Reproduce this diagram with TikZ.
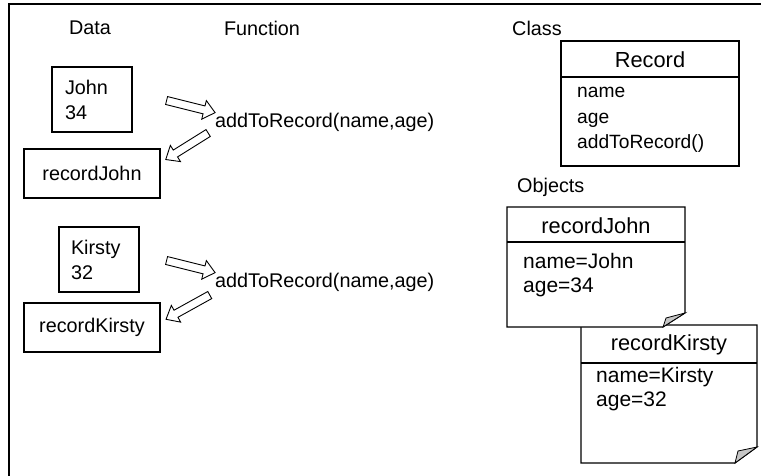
\documentclass[tikz,border=0pt]{standalone}
\usepackage{fontspec}
\setmainfont{Liberation Sans}
\usetikzlibrary{shapes.arrows}
\begin{document}
\begin{tikzpicture}[x=1pt,y=-1pt,
  every node/.style={font=\fontsize{19.8}{25}\selectfont, inner sep=0pt},
  box/.style={draw, line width=1.1pt, fill=white},
  blockarrow/.style={single arrow, draw, line width=0.9pt, fill=white,
    minimum height=50pt, inner sep=3.6pt, single arrow head extend=5.5pt,
    single arrow tip angle=80},
  fold/.style={draw, line width=0.8pt, fill=gray!45},
  lbl/.style={anchor=west, align=left},
  big/.style={font=\fontsize{21.8}{26}\selectfont},
  mid/.style={font=\fontsize{21}{24.5}\selectfont},
]
\useasboundingbox (0,0) rectangle (761,476);
% frame
\draw[line width=1.6pt] (9,476) -- (9,4) -- (761,4);

% headings
\node (hdata) at (90,28) {Data};
\node (hfunc) at (262,28) {Function};
\node (hclass) at (537,28) {Class};
\node[anchor=west] (hobj) at (517,187) {Objects};

% data boxes
\node[box, minimum width=80pt, minimum height=65pt, text width=54pt, align=left] (john) at (92,99.5) {John\\34};
\node[box, minimum width=136pt, minimum height=49pt] (recjohn) at (92,173.5) {recordJohn};
\node[box, minimum width=80pt, minimum height=65pt, text width=56pt, align=left] (kirsty) at (99,259.5) {Kirsty\\32};
\node[box, minimum width=136pt, minimum height=49pt] (reckirsty) at (92,327.5) {recordKirsty};

% functions
\node[anchor=west] (func1) at (215,122) {addToRecord(name,age)};
\node[anchor=west] (func2) at (215,282) {addToRecord(name,age)};

% block arrows
\node[blockarrow, rotate=-14] (a1) at (188.5,106) {};
\node[blockarrow, rotate=212] (a2) at (189,145) {};
\node[blockarrow, rotate=-14] (a3) at (188.5,266) {};
\node[blockarrow, rotate=209] (a4) at (190,306) {};

% class box
\node[box, minimum width=178pt, minimum height=125pt] (cls) at (650,103.5) {};
\draw[line width=1.1pt] (cls.west |- 0,77) -- (cls.east |- 0,77);
\node[big] (clsname) at (650,60) {Record};
\node[lbl, font=\fontsize{19.2}{25.5}\selectfont] (clsbody) at (577,120) {name\\age\\addToRecord()};

% object recordKirsty
\draw[line width=1.1pt, fill=white] (581,325) -- (757,325) -- (757,447) -- (735,463) -- (581,463) -- cycle;
\draw[fold] (757,447) -- (738,451) -- (735,463) -- cycle;
\draw[line width=1.1pt] (581,363) -- (757,363);
\node[big] (okname) at (669,345) {recordKirsty};
\node[lbl, mid] (okbody) at (596,389) {name=Kirsty\\age=32};

% object recordJohn
\draw[line width=1.1pt, fill=white] (507,207) -- (685,207) -- (685,313) -- (663,327) -- (507,327) -- cycle;
\draw[fold] (685,313) -- (666,318) -- (663,327) -- cycle;
\draw[line width=1.1pt] (507,242) -- (685,242);
\node[big] (ojname) at (596,226) {recordJohn};
\node[lbl, mid] (ojbody) at (523,275) {name=John\\age=34};
\end{tikzpicture}
\end{document}
